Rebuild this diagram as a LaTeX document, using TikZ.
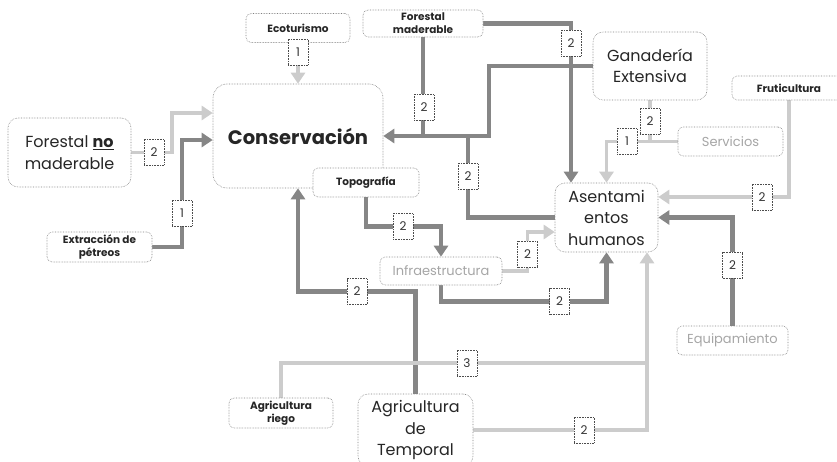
\documentclass[tikz,border=0pt]{standalone}
\usepackage{fontspec}
\setmainfont{Poppins}
\usepackage{tikz}
\usetikzlibrary{arrows.meta}
\pgfdeclarelayer{bg}
\pgfsetlayers{bg,main}

\tikzset{
  box/.style={draw=black!50, densely dotted, line width=0.6pt, fill=white, align=center, inner sep=1pt, text=black!85},
  bigbox/.style={box, rounded corners=10pt, font=\fontsize{16}{21.5}\selectfont},
  smallbox/.style={box, rounded corners=5pt, font=\bfseries\fontsize{10.5}{13}\selectfont},
  greybox/.style={box, rounded corners=5pt, text=gray!70, font=\fontsize{13}{14}\selectfont},
  lbl/.style={draw=gray!60!black, densely dotted, line width=0.6pt, fill=white, minimum width=20pt, minimum height=26pt, inner sep=0pt, text=black!80, font=\fontsize{12}{12}\selectfont},
  darkc/.style={draw=gray!95, line width=4.5pt},
  lightc/.style={draw=gray!40, line width=3.5pt},
  head/.style={-{Triangle[length=11pt,width=14pt]}},
}

\begin{document}
\begin{tikzpicture}[x=1pt,y=1pt,yscale=-1]
\path [use as bounding box] (0,0) rectangle (837,462);

% Text Node
\draw (298,136) node [bigbox, rounded corners=14pt, minimum width=170pt, minimum height=104pt, font=\bfseries\fontsize{19.5}{22}\selectfont] (cons) {Conservación};
% Text Node
\draw (366,182.5) node [smallbox, minimum width=106pt, minimum height=29pt] (topo) {Topografía};
% Text Node
\draw (298,28) node [smallbox, minimum width=104pt, minimum height=29pt] (ecot) {Ecoturismo};
% Text Node
\draw (423,23.5) node [smallbox, minimum width=120pt, minimum height=27pt] (fmad) {Forestal\\maderable};
% Text Node
\draw (69.5,152.5) node [bigbox, minimum width=123pt, minimum height=69pt] (fnomad) {Forestal \underline{\textbf{no}}\\maderable};
% Text Node
\draw (99.5,247) node [smallbox, minimum width=105pt, minimum height=30pt] (petreos) {Extracción de\\pétreos};
% Text Node
\draw (650,66) node [bigbox, minimum width=114pt, minimum height=68pt] (ganad) {Ganadería\\Extensiva};
% Text Node
\draw (789,88) node [smallbox, minimum width=114pt, minimum height=24pt] (fruti) {Fruticultura};
% Text Node
\draw (730.5,141.5) node [greybox, minimum width=105pt, minimum height=29pt] (servi) {Servicios};
% Text Node
\draw (606.5,217.5) node [bigbox, minimum width=103pt, minimum height=69pt] (asent) {Asentami\\entos\\humanos};
% Text Node
\draw (441,271) node [greybox, minimum width=122pt, minimum height=28pt] (infra) {Infraestructura};
% Text Node
\draw (732.5,340.5) node [greybox, minimum width=111pt, minimum height=29pt] (equip) {Equipamiento};
% Text Node
\draw (281,413) node [smallbox, minimum width=104pt, minimum height=30pt] (riego) {Agricultura\\riego};
% Text Node
\draw (415.5,430) node [bigbox, minimum width=115pt, minimum height=72pt] (tempo) {Agricultura\\de\\Temporal};

% Weight labels
\draw (298,52) node [lbl] (w1) {1};
\draw (154,152) node [lbl] (w2) {2};
\draw (182,213) node [lbl] (w3) {1};
\draw (424,107.5) node [lbl] (w4) {2};
\draw (571,43.5) node [lbl] (w5) {2};
\draw (468,176.5) node [lbl] (w6) {2};
\draw (650,121) node [lbl] (w7) {2};
\draw (627,141.5) node [lbl] (w8) {1};
\draw (762,197) node [lbl] (w9) {2};
\draw (732.5,265) node [lbl] (w10) {2};
\draw (403,226.5) node [lbl] (w11) {2};
\draw (527.5,254.5) node [lbl] (w12) {2};
\draw (559.5,301.5) node [lbl] (w13) {2};
\draw (357,291.5) node [lbl] (w14) {2};
\draw (467,363) node [lbl] (w15) {3};
\draw (584,430) node [lbl] (w16) {2};

\coordinate (jc) at (468,136);

\begin{pgfonlayer}{bg}
%Straight Lines: into Conservacion
\draw [lightc, head] (ecot.south) -- (cons.north);
\draw [lightc, head] (fnomad.east) -- (172,152.5) |- (cons.west |- 0,113);
\draw [darkc, head] (petreos.east) -| (182,140) -- (cons.west |- 0,140);
\draw [darkc] (fmad.south) -- (fmad.south |- cons.east);
\draw [darkc, head] (ganad.west) -| (489,136) -- (cons.east);
\draw [darkc, head] (tempo.north) |- (w14.center) -| (cons.south);
%Straight Lines: into Asentamientos
\draw [darkc, head] (fmad.east) -| (asent.north -| 571,0);
\draw [darkc] (jc) |- (asent.west);
\draw [lightc] (ganad.south) -- (ganad.south |- servi.west);
\draw [lightc, head] (servi.west) -| (asent.north);
\draw [lightc, head] (fruti.south) |- (asent.east |- 0,197);
\draw [darkc, head] (equip.north) |- (asent.east);
\draw [lightc, head] (infra.east) -| (w12.center) |- (asent.west |- 0,232);
\draw [darkc, head] (infra.south) |- (w13.center) -| (asent.south);
\draw [lightc, head] (riego.north) |- (w15.center) -| (asent.south -| 647,0);
\draw [lightc] (tempo.east) -- (w16.center) -| (647,363);
%Straight Lines: into Infraestructura
\draw [darkc, head] (topo.south) |- (w11.center) -| (infra.north);
\end{pgfonlayer}

\end{tikzpicture}
\end{document}
